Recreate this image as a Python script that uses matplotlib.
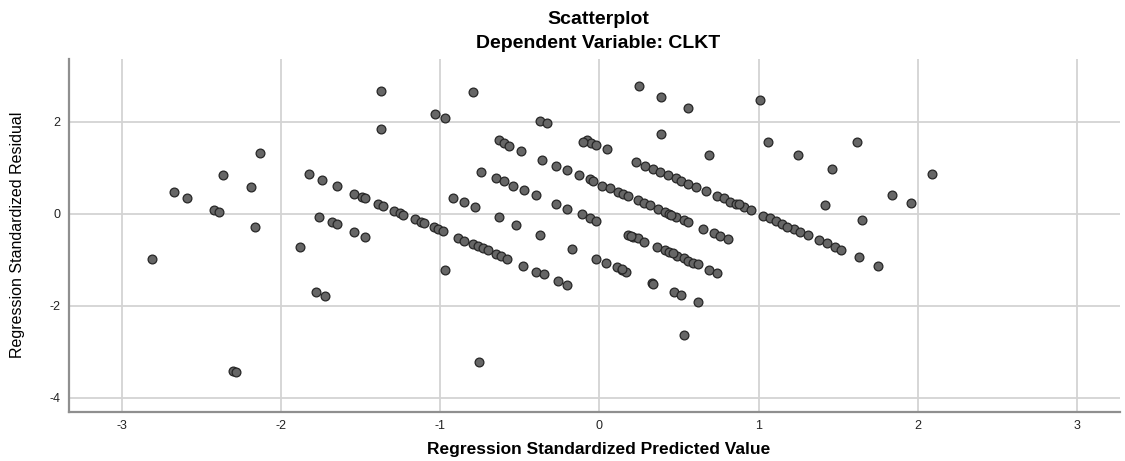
import numpy as np
import matplotlib.pyplot as plt

# standardized predicted value / standardized residual
pred = [-2.81, -2.67, -2.59, -2.42, -2.39, -2.36, -2.30, -2.28, -2.19, -2.16,
        -2.13, -1.88, -1.82, -1.78, -1.76, -1.74, -1.72, -1.68, -1.65, -1.65,
        -1.54, -1.54, -1.49, -1.47, -1.47, -1.39, -1.37, -1.37, -1.36, -1.29,
        -1.25, -1.23, -1.16, -1.12, -1.10, -1.04, -1.03, -1.01, -0.98, -0.97,
        -0.97, -0.92, -0.89, -0.85, -0.85, -0.79, -0.79, -0.78, -0.76, -0.755,
        -0.74, -0.73, -0.70, -0.65, -0.65, -0.63, -0.63, -0.62, -0.60, -0.60,
        -0.58, -0.57, -0.54, -0.52, -0.49, -0.48, -0.47, -0.40, -0.40, -0.37,
        -0.37, -0.36, -0.35, -0.33, -0.27, -0.27, -0.26, -0.20, -0.20, -0.20,
        -0.17, -0.13, -0.11, -0.08, -0.06, -0.06, -0.05, -0.04, -0.02, -0.02,
        -0.02, 0.02, 0.04, 0.05, 0.07, 0.11, 0.12, 0.14, 0.15, 0.17,
        0.18, 0.18, 0.21, 0.23, 0.24, 0.24, 0.25, 0.28, 0.28, 0.29,
        0.32, 0.33, 0.34, 0.34, 0.36, 0.37, 0.38, 0.39, 0.39, 0.41,
        0.41, 0.43, 0.44, 0.44, 0.47, 0.48, 0.48, 0.49, 0.51, 0.51,
        0.53, 0.53, 0.53, 0.56, 0.56, 0.56, 0.56, 0.59, 0.61, 0.62,
        0.62, 0.65, 0.67, 0.69, 0.69, 0.72, 0.74, 0.74, 0.76, 0.78,
        0.81, 0.82, 0.86, 0.91, 0.95, 1.01, 1.03, 1.06, 1.07, 1.11,
        1.15, 1.22, 1.25, 1.26, 1.31, 1.38, 1.42, 1.43, 1.46, 1.48,
        1.52, 1.62, 1.63, 1.65, 1.75, 1.84, 1.96, 2.09,
        0.20, 0.45, 0.46, 0.88, 1.18, -0.10, 0.14]
resid = [-0.99, 0.46, 0.33, 0.08, 0.04, 0.83, -3.41, -3.45, 0.57, -0.30,
         1.32, -0.72, 0.86, -1.70, -0.07, 0.73, -1.79, -0.19, -0.22, 0.61,
         0.42, -0.39, 0.37, 0.34, -0.50, 0.21, 2.67, 1.84, 0.17, 0.06,
         0.01, -0.02, -0.12, -0.18, -0.20, -0.28, 2.17, -0.33, -0.38, 2.08,
         -1.23, 0.35, -0.54, 0.25, -0.59, 2.64, -0.67, 0.15, -0.70, -3.22,
         0.91, -0.75, -0.80, 0.78, -0.88, 1.59, -0.07, -0.91, 1.53, 0.70,
         -0.99, 1.48, 0.60, -0.25, 1.37, -1.14, 0.52, 0.41, -1.26, -0.46,
         2.02, 1.17, -1.31, 1.97, 1.04, 0.21, -1.47, 0.94, 0.10, -1.55,
         -0.77, 0.84, -0.01, 1.60, 0.75, -0.10, 1.54, 0.71, 1.50, -0.17,
         -0.99, 0.61, -1.08, 1.40, 0.56, -1.17, 0.47, -1.22, 0.43, -1.26,
         0.39, -0.46, -0.50, 1.13, 0.30, -0.54, 2.77, 0.24, -0.62, 1.04,
         0.18, -1.51, 0.97, -1.53, -0.72, 0.10, 0.91, 2.54, 1.72, 0.04,
         -0.79, 0.84, -0.01, -0.83, -1.71, 0.78, -0.07, -0.92, 0.72, -1.77,
         -0.14, -0.97, -2.63, 2.30, 0.65, -0.18, -1.02, -1.07, 0.57, -1.10,
         -1.93, -0.33, 0.49, 1.28, -1.22, -0.41, 0.39, -1.28, -0.49, 0.33,
         -0.56, 0.25, 0.21, 0.14, 0.07, 2.46, -0.05, 1.56, -0.10, -0.17,
         -0.23, -0.34, 1.28, -0.40, -0.47, -0.58, 0.19, -0.64, 0.97, -0.72,
         -0.79, 1.56, -0.95, -0.14, -1.13, 0.40, 0.23, 0.86,
         -0.48, -0.02, -0.85, 0.20, -0.28, 1.55, -1.20]

xticks = [-3, -2, -1, 0, 1, 2, 3]
yticks = [-4, -2, 0, 2]

plt.rcParams['font.family'] = ['Liberation Sans', 'DejaVu Sans']
plt.rcParams['axes.unicode_minus'] = False

fig = plt.figure(figsize=(11.25, 4.61), dpi=100)
ax = fig.add_axes([0.0613, 0.1063, 0.9343, 0.7657])

ax.grid(True, color='#d3d3d3', linewidth=1.3)
ax.set_axisbelow(True)
ax.scatter(pred, resid, s=40, facecolor='#666666', edgecolor='#262626',
           linewidths=0.9, zorder=3)

ax.set_xlim(-3.33, 3.27)
ax.set_ylim(-4.31, 3.36)
ax.set_xticks(xticks)
ax.set_yticks(yticks)
ax.tick_params(length=0, labelsize=9, colors='#222222', pad=6)
for side in ['top', 'right']:
    ax.spines[side].set_visible(False)
for side in ['left', 'bottom']:
    ax.spines[side].set_color('#8f8f8f')
    ax.spines[side].set_linewidth(1.6)

fig.text(0.532, 0.957, 'Scatterplot', ha='center', va='center',
         fontsize=14, fontweight='bold')
fig.text(0.532, 0.905, 'Dependent Variable: CLKT', ha='center', va='center',
         fontsize=14, fontweight='bold')
fig.text(0.532, 0.024, 'Regression Standardized Predicted Value', ha='center',
         va='center', fontsize=12.5, fontweight='bold')
fig.text(0.016, 0.49, 'Regression Standardized Residual', ha='center',
         va='center', rotation=90, fontsize=11.5)

fig.savefig('out.png', dpi=100)
